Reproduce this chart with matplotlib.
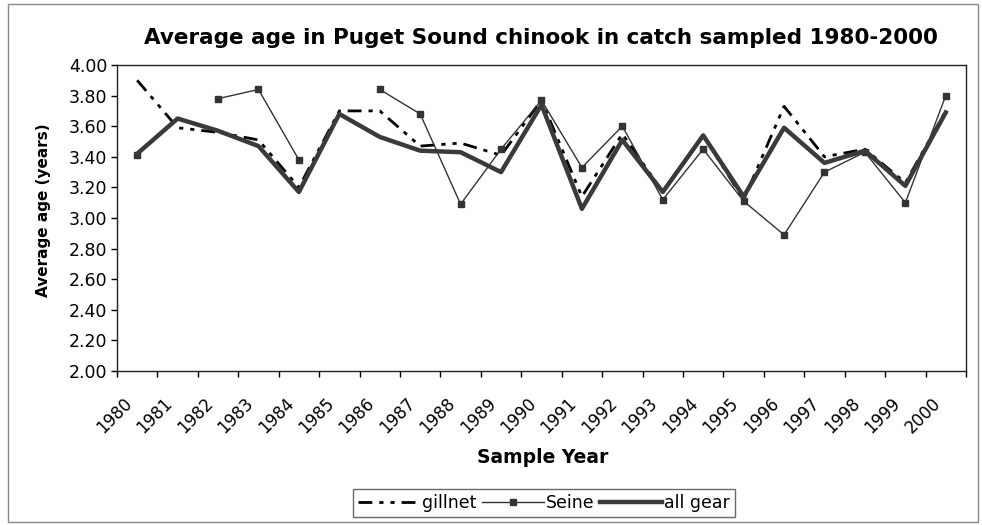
import numpy as np
import matplotlib
matplotlib.use("Agg")
from matplotlib import pyplot as plt
from matplotlib import transforms
from matplotlib.patches import Rectangle

plt.rcParams['font.family'] = ['DejaVu Sans']

# Average age (years); nan = no sample that year
years = [str(y) for y in range(1980, 2001)]
gillnet = [3.90, 3.59, 3.56, 3.51, 3.20, 3.70, 3.70, 3.47, 3.49, 3.41, 3.77,
           3.14, 3.55, 3.17, 3.54, 3.12, 3.73, 3.40, 3.45, 3.23, 3.70]
seine = [3.41, np.nan, 3.78, 3.84, 3.38, np.nan, 3.84, 3.68, 3.09, 3.45, 3.77,
         3.33, 3.60, 3.12, 3.45, 3.11, 2.89, 3.30, 3.43, 3.10, 3.80]
all_gear = [3.42, 3.65, 3.57, 3.47, 3.17, 3.68, 3.53, 3.44, 3.43, 3.30, 3.74,
            3.06, 3.51, 3.17, 3.54, 3.14, 3.59, 3.36, 3.44, 3.21, 3.69]
y_ticks = [2.0, 2.2, 2.4, 2.6, 2.8, 3.0, 3.2, 3.4, 3.6, 3.8, 4.0]

fig = plt.figure(figsize=(9.82, 5.25), dpi=100)
ax = fig.add_axes([0.1191, 0.2933, 0.8646, 0.5829])

x = np.arange(len(years))
ax.plot(x, gillnet, color='black', lw=2, linestyle=(0, (5, 2.5, 1.5, 2.5, 1.5, 2.5)),
        label='gillnet')
ax.plot(x, seine, color='#333333', lw=1, marker='s', ms=5, label='Seine')
ax.plot(x, all_gear, color='#3a3a3a', lw=3.2, label='all gear')

ax.set_xlim(-0.5, len(years) - 0.5)
ax.set_ylim(2.0, 4.0)
ax.set_yticks(y_ticks)
ax.set_yticklabels(['%.2f' % v for v in y_ticks], fontsize=12.5)
ax.tick_params(axis='y', direction='out', length=4, width=1, pad=3)

# category axis: ticks between categories, labels at the centres
ax.set_xticks(x)
ax.set_xticks(np.arange(len(years) + 1) - 0.5, minor=True)
ax.tick_params(axis='x', which='major', length=0, pad=21)
ax.tick_params(axis='x', which='minor', direction='out', length=4, width=1)
ax.set_xticklabels(years, rotation=45, ha='right', va='center',
                   rotation_mode='anchor', fontsize=12)
shift = transforms.ScaledTranslation(-8 / 100, 0, fig.dpi_scale_trans)
for lab in ax.get_xticklabels():
    lab.set_transform(lab.get_transform() + shift)

for s in ax.spines.values():
    s.set_linewidth(1)
    s.set_color('#222222')

fig.text(0.551, 0.927, 'Average age in Puget Sound chinook in catch sampled 1980-2000',
         ha='center', va='center', fontsize=15.5, fontweight='bold')
fig.text(0.044, 0.60, 'Average age (years)', rotation=90, ha='center', va='center',
         fontsize=11, fontweight='bold')
fig.text(0.553, 0.128, 'Sample Year', ha='center', va='center',
         fontsize=13.5, fontweight='bold')

leg = fig.legend(loc='center', bbox_to_anchor=(0.554, 0.042), ncol=3, fontsize=12.5,
                 frameon=True, fancybox=False, edgecolor='#444444', handlelength=3.6,
                 handletextpad=0.1, columnspacing=0.3, borderpad=0.3, borderaxespad=0)
leg.get_frame().set_linewidth(1)

fig.add_artist(Rectangle((0.008, 0.006), 0.988, 0.986, transform=fig.transFigure,
                         fill=False, lw=1, edgecolor='#888888'))

fig.savefig('out.png', dpi=100)
